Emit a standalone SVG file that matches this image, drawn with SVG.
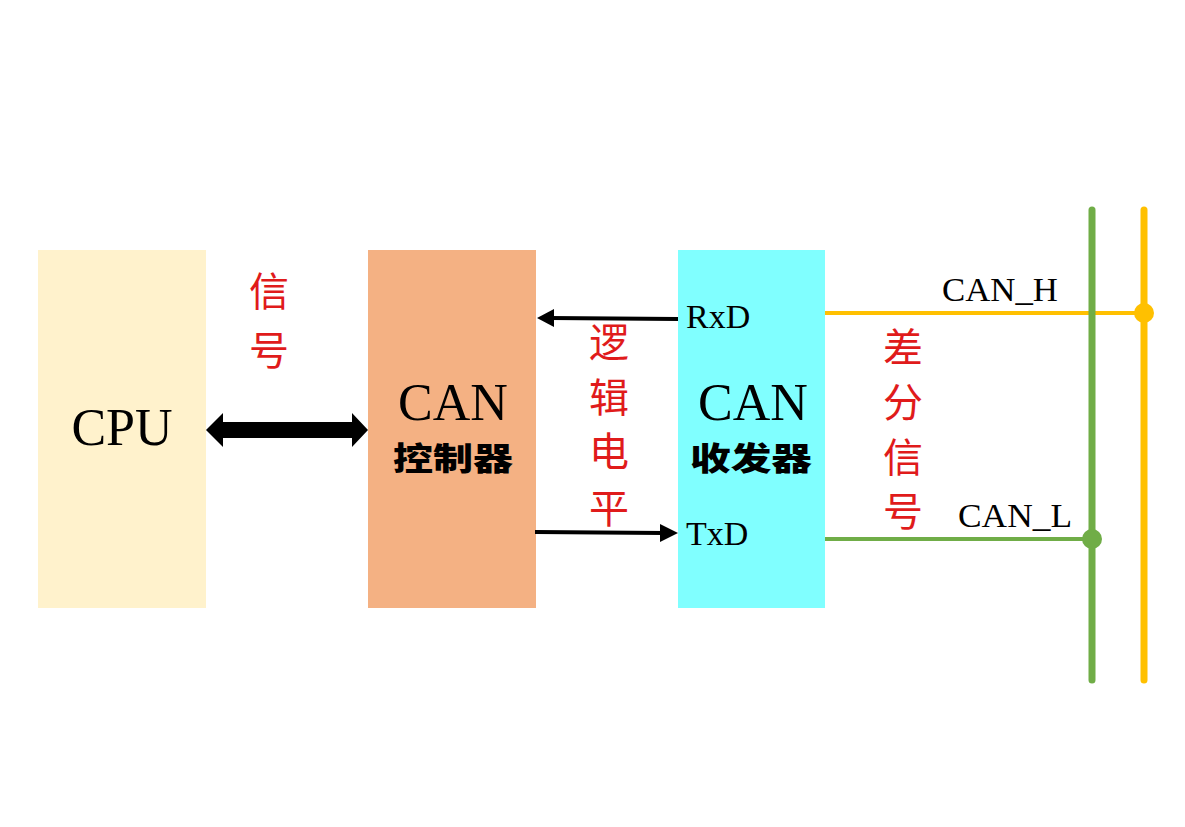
<svg xmlns="http://www.w3.org/2000/svg" width="1185" height="827" viewBox="0 0 1185 827">
<defs>
<style>
.box{stroke:none}
.en{font-family:"Liberation Serif","Times New Roman",serif;fill:#000}
.big{font-size:52px;text-anchor:middle}
.lbl{font-size:34px}
.cjkb{font-family:"Noto Sans CJK SC",sans-serif;font-weight:900;font-size:32px;fill:#000;text-anchor:middle}
.red{font-family:"Noto Sans CJK SC",sans-serif;font-size:40px;fill:#E01B1B;text-anchor:middle}
.arr{stroke:#000;stroke-width:4;fill:none}
.head{fill:#000}
</style>
</defs>
<rect width="1185" height="827" fill="#fff"/>

<g id="cpu">
<rect class="box" x="38" y="250" width="168" height="358" fill="#FFF2CC"/>
<text class="en big" x="122" y="445" font-size="50">CPU</text>
</g>

<g id="controller">
<rect class="box" x="368" y="250" width="168" height="358" fill="#F4B183"/>
<text class="en big" x="453" y="420">CAN</text>
<text class="cjkb" x="453" y="470" textLength="120" lengthAdjust="spacingAndGlyphs">控制器</text>
</g>

<g id="transceiver">
<rect class="box" x="678" y="250" width="147" height="358" fill="#80FFFF"/>
<text class="en big" x="753" y="420">CAN</text>
<text class="cjkb" x="751" y="470" textLength="122" lengthAdjust="spacingAndGlyphs">收发器</text>
<text class="en lbl" x="686" y="328">RxD</text>
<text class="en lbl" x="686" y="545">TxD</text>
</g>

<g id="signal-label">
<text class="red" x="269" y="306">信</text>
<text class="red" x="269" y="365">号</text>
</g>

<g id="logic-label">
<text class="red" x="609" y="357" font-size="42">逻</text>
<text class="red" x="609" y="412" font-size="42">辑</text>
<text class="red" x="609" y="466" font-size="42">电</text>
<text class="red" x="609" y="523" font-size="42">平</text>
</g>

<g id="diff-label">
<text class="red" x="903" y="362" font-size="42">差</text>
<text class="red" x="903" y="417" font-size="42">分</text>
<text class="red" x="903" y="472" font-size="42">信</text>
<text class="red" x="903" y="526" font-size="42">号</text>
</g>

<g id="bus">
<line x1="1144" y1="210" x2="1144" y2="680" stroke="#FFC000" stroke-width="7" stroke-linecap="round"/>
<line x1="825" y1="313" x2="1144" y2="313" stroke="#FFC000" stroke-width="4"/>
<line x1="1092" y1="210" x2="1092" y2="680" stroke="#70AD47" stroke-width="7" stroke-linecap="round"/>
<line x1="825" y1="539" x2="1092" y2="539" stroke="#70AD47" stroke-width="4"/>
<circle cx="1144" cy="313" r="10" fill="#FFC000"/>
<circle cx="1092" cy="539" r="10" fill="#70AD47"/>
<text class="en lbl" x="942" y="301" textLength="116" lengthAdjust="spacingAndGlyphs">CAN_H</text>
<text class="en lbl" x="958" y="527" textLength="114" lengthAdjust="spacingAndGlyphs">CAN_L</text>
</g>

<g id="connectors">
<path d="M206,430 L223,413 L223,422 L352,422 L352,413 L368,430 L352,447 L352,438 L223,438 L223,447 Z" fill="#000"/>
<line class="arr" x1="678" y1="319" x2="550" y2="318"/>
<path class="head" d="M537,318 L554,309 L554,327 Z"/>
<line class="arr" x1="535" y1="532" x2="664" y2="533"/>
<path class="head" d="M678,533 L660,524 L660,542 Z"/>
</g>
</svg>
